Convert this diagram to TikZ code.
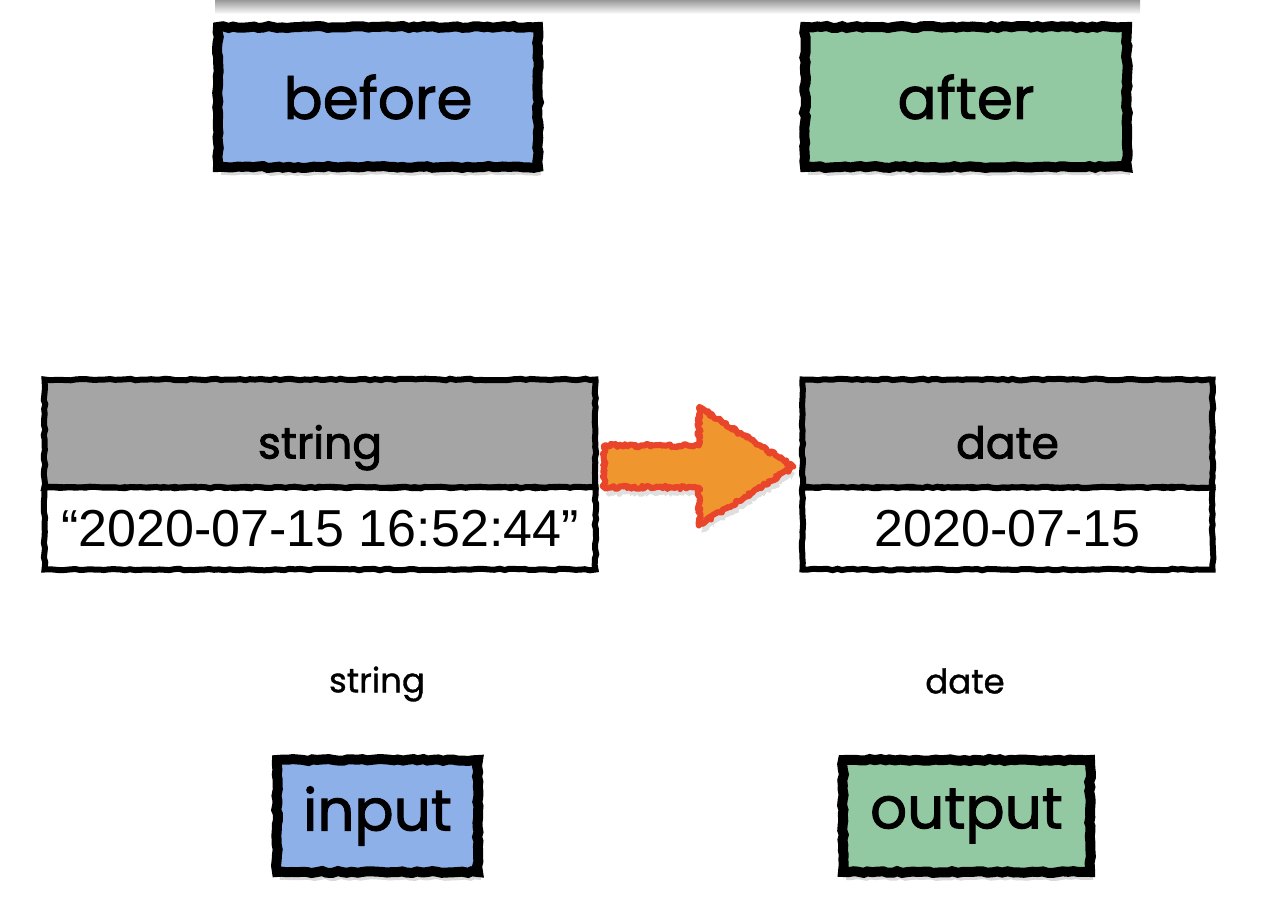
\documentclass[tikz,border=0pt]{standalone}
\usepackage{fontspec}
\setmainfont{Poppins}
\newfontfamily\arialfont{Liberation Sans}
\usetikzlibrary{shapes.arrows,shadows,positioning,calc,decorations.pathmorphing}
\definecolor{beforeblue}{HTML}{8EB0E8}
\definecolor{aftergreen}{HTML}{93C9A2}
\definecolor{headgray}{HTML}{A5A5A5}
\definecolor{fireorange}{HTML}{F0962F}
\definecolor{firered}{HTML}{E8452A}

\begin{document}
\begin{tikzpicture}[x=1pt,y=-1pt,
  sketchbox/.style={draw=black, line width=10pt, inner sep=0pt,
    decorate, decoration={random steps,segment length=5pt,amplitude=1pt},
    drop shadow={shadow xshift=3pt,shadow yshift=-8pt,opacity=.3},
    font=\fontsize{58}{58}\selectfont\addfontfeature{FakeBold=1.6}},
  tabcell/.style={draw=black, line width=6pt, inner sep=0pt, outer sep=0pt,
    decorate, decoration={random steps,segment length=5pt,amplitude=.8pt}},
  tabhead/.style={tabcell, fill=headgray, minimum height=108,
    text height=50pt, text depth=0pt,
    font=\fontsize{44}{44}\selectfont\addfontfeature{FakeBold=2}},
  tabbody/.style={tabcell, fill=white, minimum height=82,
    font=\arialfont\fontsize{52}{52}\selectfont},
  typelabel/.style={font=\fontsize{34}{34}\selectfont\addfontfeature{FakeBold=1}},
  firearrow/.style={single arrow, fill=fireorange, draw=firered, line width=6pt,
    line join=round, inner xsep=0pt, inner ysep=18pt, single arrow head extend=38pt,
    single arrow tip angle=64, minimum height=189,
    decorate, decoration={random steps,segment length=2pt,amplitude=1.8pt},
    drop shadow={shadow xshift=3pt,shadow yshift=-8pt,opacity=.25}}]
\useasboundingbox (0,0) rectangle (1270,914);

% shadow of the box above
\shade[top color=black!40, bottom color=white] (215,0) rectangle (1140,14);

% Text Node
\node[sketchbox, fill=beforeblue, minimum width=320, minimum height=140] (before) at (378,97) {before};
% Text Node
\node[sketchbox, fill=aftergreen, minimum width=322, minimum height=140] (after) at (966,97) {after};

% Table: string
\node[tabhead, minimum width=551] (strhead) at (320,433.5) {string};
\node[tabbody, minimum width=551, below=0pt of strhead] (strbody) {“2020-07-15 16:52:44”};
% Table: date
\node[tabhead, minimum width=410] (datehead) at (1007.5,433.5) {date};
\node[tabbody, minimum width=410, below=0pt of datehead] (datebody) {2020-07-15};

% conversion arrow
\node[firearrow] (convert) at ($(strhead.south east)!.5!(datehead.south west)+(-17,-21)$) {};

% Text Node
\node[typelabel] (strtype) at (377,684) {string};
\node[typelabel] (datetype) at (965,681) {date};

% Text Node
\node[sketchbox, fill=beforeblue, minimum width=201, minimum height=112] (input) at (377.5,816) {input};
% Text Node
\node[sketchbox, fill=aftergreen, minimum width=247, minimum height=112] (output) at (966.5,816) {output};

\end{tikzpicture}
\end{document}
